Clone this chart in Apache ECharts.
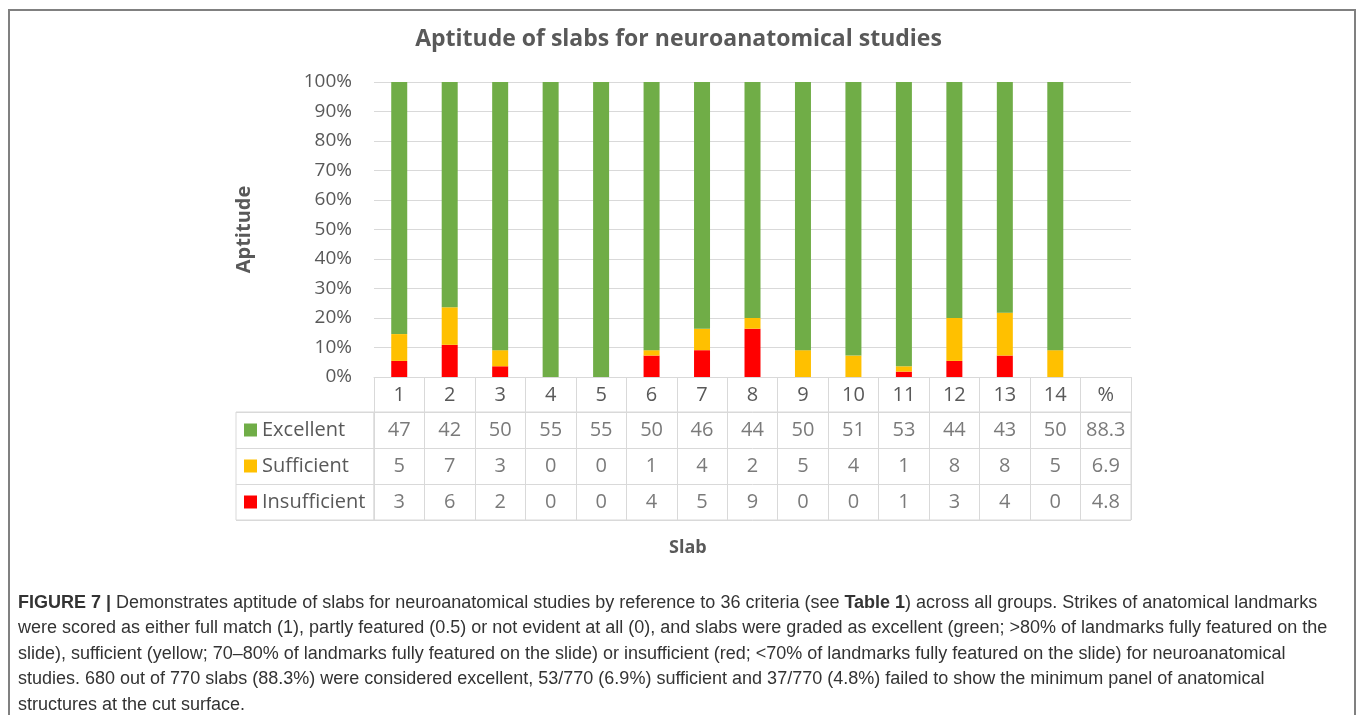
<!DOCTYPE html>
<html>
<head>
<meta charset="utf-8">
<title>Aptitude of slabs</title>
<script src="https://cdn.jsdelivr.net/npm/echarts@6/dist/echarts.min.js"></script>
<style>
  html, body { margin: 0; padding: 0; background: #fff; }
  #main { width: 1357px; height: 715px; }
</style>
</head>
<body>
<div id="main"></div>
<script>
  // counts of slabs per grade, slab 1..14
  const slabs = ['1', '2', '3', '4', '5', '6', '7', '8', '9', '10', '11', '12', '13', '14'];
  const columns = slabs.concat(['%']);
  const rowNames = ['Excellent', 'Sufficient', 'Insufficient'];
  const excellent = [47, 42, 50, 55, 55, 50, 46, 44, 50, 51, 53, 44, 43, 50];
  const sufficient = [5, 7, 3, 0, 0, 1, 4, 2, 5, 4, 1, 8, 8, 5];
  const insufficient = [3, 6, 2, 0, 0, 4, 5, 9, 0, 0, 1, 3, 4, 0];
  const totalPct = [88.3, 6.9, 4.8];

  const colors = ['#70ad47', '#ffc000', '#ff0000'];
  const textColor = '#595959';
  const lineColor = '#d9d9d9';
  const font = '"Open Sans", "DejaVu Sans", sans-serif';
  const captionFont = '"Liberation Sans Narrow", "Liberation Sans", sans-serif';

  // share of each grade in a slab, in percent
  function share(arr) {
    return arr.map((v, i) => v / (excellent[i] + sufficient[i] + insufficient[i]) * 100);
  }

  // one text cell per value in the table
  const rows = [excellent, sufficient, insufficient];
  const cells = [];
  rows.forEach((row, r) => {
    row.forEach((v, c) => cells.push([c, r, String(v)]));
    cells.push([slabs.length, r, totalPct[r].toFixed(1)]);
  });

  const chart = echarts.init(document.getElementById('main'));
  chart.setOption({
    animation: false,
    textStyle: { fontFamily: font },
    title: [{
      text: 'Aptitude of slabs for neuroanatomical studies',
      left: 'center',
      top: 23,
      textStyle: { fontFamily: font, fontSize: 23, fontWeight: 'bold', color: textColor }
    }, {
      text: 'Slab',
      left: 664,
      top: 534,
      textStyle: { fontFamily: font, fontSize: 18, fontWeight: 'bold', color: textColor }
    }],
    grid: [
      { left: 374, width: 757, top: 82, height: 295 },
      { left: 374, width: 757, top: 412, height: 108, show: true, borderColor: lineColor, borderWidth: 1 },
      { left: 236, width: 138, top: 412, height: 108, show: true, borderColor: lineColor, borderWidth: 1 }
    ],
    xAxis: [{
      gridIndex: 0,
      type: 'category',
      data: columns,
      axisLine: { lineStyle: { color: lineColor, width: 1 } },
      axisTick: { show: true, interval: 0, length: 35, lineStyle: { color: lineColor } },
      axisLabel: { interval: 0, margin: 8, fontSize: 20, lineHeight: 20, color: textColor }
    }, {
      gridIndex: 1,
      type: 'category',
      data: columns,
      axisLine: { show: false },
      axisTick: { show: false },
      axisLabel: { show: false },
      splitLine: { show: true, interval: 0, lineStyle: { color: lineColor } }
    }, {
      gridIndex: 2,
      type: 'category',
      data: [''],
      axisLine: { show: false },
      axisTick: { show: false },
      axisLabel: { show: false }
    }],
    yAxis: [{
      gridIndex: 0,
      type: 'value',
      min: 0,
      max: 100,
      interval: 10,
      name: 'Aptitude',
      nameLocation: 'middle',
      nameGap: 120,
      nameTextStyle: { fontSize: 20, fontWeight: 'bold', color: textColor },
      axisLine: { show: false },
      axisTick: { show: false },
      axisLabel: { formatter: '{value}%', fontSize: 19, margin: 22, color: textColor },
      splitLine: { lineStyle: { color: lineColor, width: 1 } }
    }, {
      gridIndex: 1,
      type: 'category',
      data: rowNames,
      inverse: true,
      axisLine: { show: false },
      axisTick: { show: false },
      axisLabel: { show: false },
      splitLine: { show: true, interval: 0, lineStyle: { color: lineColor } }
    }, {
      gridIndex: 2,
      type: 'category',
      data: rowNames,
      inverse: true,
      axisLine: { show: false },
      axisTick: { show: false },
      splitLine: { show: true, interval: 0, lineStyle: { color: lineColor } },
      axisLabel: {
        inside: true,
        margin: 8,
        interval: 0,
        formatter: (name, i) => '{s' + i + '|}{t|' + name + '}',
        rich: {
          s0: { width: 13, height: 13, backgroundColor: colors[0] },
          s1: { width: 13, height: 13, backgroundColor: colors[1] },
          s2: { width: 13, height: 13, backgroundColor: colors[2] },
          t: { fontSize: 20, color: textColor, padding: [0, 0, 0, 5] }
        }
      }
    }],
    series: [{
      name: 'Insufficient',
      type: 'bar',
      stack: 'grade',
      barWidth: 16,
      itemStyle: { color: colors[2] },
      data: share(insufficient)
    }, {
      name: 'Sufficient',
      type: 'bar',
      stack: 'grade',
      barWidth: 16,
      itemStyle: { color: colors[1] },
      data: share(sufficient)
    }, {
      name: 'Excellent',
      type: 'bar',
      stack: 'grade',
      barWidth: 16,
      itemStyle: { color: colors[0] },
      data: share(excellent)
    }, {
      type: 'scatter',
      xAxisIndex: 1,
      yAxisIndex: 1,
      symbolSize: 1,
      itemStyle: { color: 'rgba(0,0,0,0)' },
      label: {
        show: true,
        position: 'inside',
        fontSize: 20,
        color: textColor,
        formatter: p => p.value[2]
      },
      data: cells
    }],
    graphic: [{
      type: 'rect',
      shape: { x: 9, y: 10, width: 1346, height: 740 },
      style: { fill: 'none', stroke: '#808080', lineWidth: 2 }
    }, {
      type: 'text',
      left: 18,
      top: 590,
      style: {
        text: '{b|FIGURE 7 |} Demonstrates aptitude of slabs for neuroanatomical studies by reference to 36 criteria (see {b|Table 1}) across all groups. Strikes of anatomical landmarks\n' +
          'were scored as either full match (1), partly featured (0.5) or not evident at all (0), and slabs were graded as excellent (green; >80% of landmarks fully featured on the\n' +
          'slide), sufficient (yellow; 70\u201380% of landmarks fully featured on the slide) or insufficient (red; <70% of landmarks fully featured on the slide) for neuroanatomical\n' +
          'studies. 680 out of 770 slabs (88.3%) were considered excellent, 53/770 (6.9%) sufficient and 37/770 (4.8%) failed to show the minimum panel of anatomical\n' +
          'structures at the cut surface.',
        font: '18px ' + captionFont,
        fill: '#333333',
        lineHeight: 25.5,
        rich: {
          b: { font: 'bold 18px ' + captionFont, fill: '#333333', lineHeight: 25.5 }
        }
      }
    }]
  });
</script>
</body>
</html>
